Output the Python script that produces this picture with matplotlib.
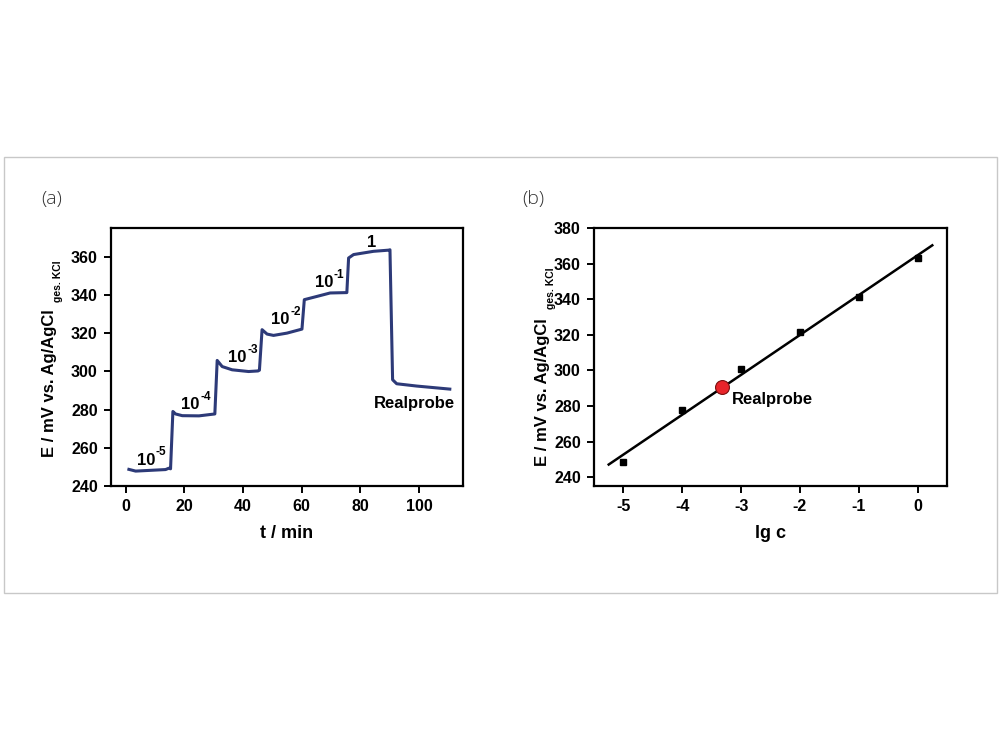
import numpy as np
import matplotlib
matplotlib.use("Agg")
import matplotlib.pyplot as plt
from matplotlib.patches import Rectangle

plt.rcParams['font.family'] = ['Liberation Sans', 'DejaVu Sans']

# ---- Panel (a): potential vs time ----
t_min = [1.1, 3.4, 13.6, 14.7, 15.3, 16.1, 17.0, 19.3, 25.0, 30.4,
         31.2, 32.9, 36.3, 41.9, 45.1, 45.6,
         46.5, 48.2, 50.4, 55.0, 60.1,
         60.9, 65.2, 69.7, 75.4,
         76.0, 77.7, 84.5, 89.6, 90.1,
         91.0, 92.4, 99.2, 110.5]
E_mV = [248.7, 247.8, 248.6, 249.3, 249.0, 279.0, 277.7, 276.8, 276.7, 277.7,
        305.7, 302.5, 300.8, 299.9, 300.2, 300.6,
        321.8, 319.5, 318.8, 320.0, 322.1,
        337.5, 339.2, 341.0, 341.2,
        359.3, 361.1, 362.8, 363.4, 363.6,
        295.6, 293.5, 292.3, 290.7]

step_base = ['10', '10', '10', '10', '10', '1']
step_exp = ['-5', '-4', '-3', '-2', '-1', '']
step_label_x = [8.5, 23.8, 39.7, 54.4, 69.2, 83.9]
step_label_y = [253.6, 282.4, 307.0, 327.0, 346.5, 367.2]
real_label_xy = (98.4, 283.0)

# ---- Panel (b): calibration ----
lg_c = [-5, -4, -3, -2, -1, 0]
E_cal = [248.5, 277.5, 300.5, 321.5, 341.0, 363.0]
real_lgc = [-3.32]
real_E = [290.4]

fig = plt.figure(figsize=(10, 7.5), dpi=100)

# outer light frame
fig.patches.append(Rectangle((0.004, 1 - 593 / 750), 0.993, (593 - 157) / 750,
                             transform=fig.transFigure, fill=False,
                             edgecolor='#c8c8c8', linewidth=1.0))

line_col = '#2d3a78'

def style_axes(ax):
    for s in ax.spines.values():
        s.set_linewidth(1.6)
    ax.tick_params(direction='out', length=5, width=1.4, labelsize=11.5,
                   top=False, right=False, pad=4.5)
    for lab in ax.get_xticklabels() + ax.get_yticklabels():
        lab.set_fontweight('bold')

def ylabel(x_px, y_px, sub_x_px, sub_y_px):
    fig.text(x_px / 1000, 1 - y_px / 750, 'E / mV vs. Ag/AgCl', rotation=90,
             ha='center', va='center', fontsize=12, fontweight='bold')
    fig.text(sub_x_px / 1000, 1 - sub_y_px / 750, 'ges. KCl', rotation=90,
             ha='center', va='center', fontsize=7.5, fontweight='bold')

ax1 = fig.add_axes([0.111, 0.352, 0.352, 0.344])
ax1.plot(t_min, E_mV, color=line_col, lw=2.2, solid_joinstyle='round')
ax1.set_xlim(-5, 115)
ax1.set_ylim(240, 375)
ax1.set_xticks([0, 20, 40, 60, 80, 100])
ax1.set_yticks([240, 260, 280, 300, 320, 340, 360])
ax1.set_xlabel('t / min', fontsize=13, fontweight='bold', labelpad=8)
for b, e, x, y in zip(step_base, step_exp, step_label_x, step_label_y):
    if e:
        ax1.annotate(b, (x, y), xytext=(-3.5, 0), textcoords='offset points',
                     ha='center', va='center', fontsize=12, fontweight='bold')
        ax1.annotate(e, (x, y), xytext=(3.6, 5.5), textcoords='offset points',
                     ha='left', va='center', fontsize=8.5, fontweight='bold')
    else:
        ax1.text(x, y, b, ha='center', va='center', fontsize=12, fontweight='bold')
ax1.text(real_label_xy[0], real_label_xy[1], 'Realprobe', ha='center', va='center',
         fontsize=12, fontweight='bold')
style_axes(ax1)
ylabel(50, 383, 58, 281)

ax2 = fig.add_axes([0.594, 0.352, 0.353, 0.344])
coef = np.polyfit(lg_c, E_cal, 1)
xf = np.array([-5.25, 0.25])
ax2.plot(xf, np.polyval(coef, xf), color='black', lw=1.8)
ax2.plot(lg_c, E_cal, 's', color='black', ms=5)
ax2.plot(real_lgc, real_E, 'o', mfc='#e8242a', mec='#7a1010', ms=10, mew=0.8)
ax2.text(real_lgc[0] + 0.16, real_E[0] - 6.7, 'Realprobe', ha='left', va='center',
         fontsize=12, fontweight='bold')
ax2.set_xlim(-5.5, 0.5)
ax2.set_ylim(235, 380)
ax2.set_xticks([-5, -4, -3, -2, -1, 0])
ax2.set_xticklabels(['-5', '-4', '-3', '-2', '-1', '0'])
ax2.set_yticks([240, 260, 280, 300, 320, 340, 360, 380])
ax2.set_xlabel('lg c', fontsize=13, fontweight='bold', labelpad=8)
style_axes(ax2)
ylabel(543, 392, 551, 288)

fig.text(0.052, 1 - 199 / 750, '(a)', ha='center', va='center', fontsize=14,
         color='#333333', family=['Open Sans', 'DejaVu Sans'], fontweight='light')
fig.text(0.533, 1 - 199 / 750, '(b)', ha='center', va='center', fontsize=14,
         color='#333333', family=['Open Sans', 'DejaVu Sans'], fontweight='light')

fig.savefig('out.png', dpi=100)
